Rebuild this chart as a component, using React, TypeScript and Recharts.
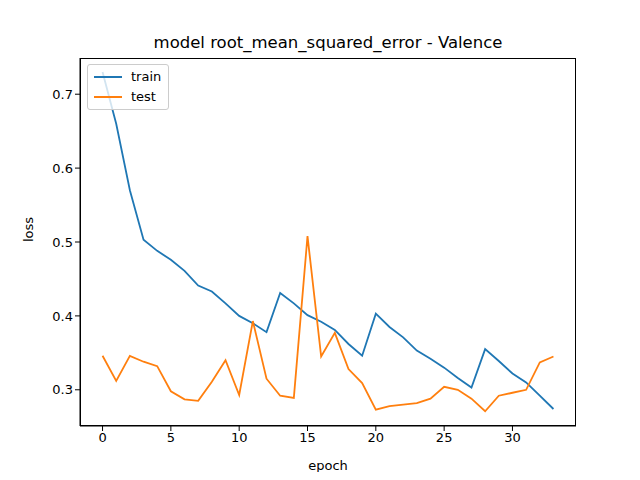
import { LineChart, Line, XAxis, YAxis } from 'recharts';

const epochs = Array.from({ length: 34 }, (_, i) => i);
const train = [
  0.73, 0.66, 0.57, 0.503, 0.488, 0.476, 0.461, 0.441, 0.433, 0.417, 0.4, 0.39, 0.378, 0.431, 0.417, 0.401, 0.392,
  0.381, 0.362, 0.346, 0.403, 0.385, 0.371, 0.353, 0.342, 0.33, 0.316, 0.303, 0.355, 0.339, 0.322, 0.31, 0.292, 0.274,
];
const test = [
  0.346, 0.312, 0.346, 0.338, 0.332, 0.298, 0.287, 0.285, 0.311, 0.34, 0.293, 0.393, 0.315, 0.292, 0.289, 0.508, 0.345,
  0.377, 0.328, 0.309, 0.273, 0.278, 0.28, 0.282, 0.288, 0.304, 0.3, 0.288, 0.271, 0.292, 0.296, 0.3, 0.337, 0.345,
];
const xTicks = [0, 5, 10, 15, 20, 25, 30];
const yTicks = [0.3, 0.4, 0.5, 0.6, 0.7];
const series = [
  { key: 'train', color: '#1f77b4' },
  { key: 'test', color: '#ff7f0e' },
];

const data = epochs.map((e, i) => ({ epoch: e, train: train[i], test: test[i] }));

const font = 'DejaVu Sans, sans-serif';
const tick = { fill: '#000', fontSize: 13, fontFamily: font };

export default function App() {
  return (
    <div style={{ margin: -8, width: 640, height: 480, background: '#fff', position: 'relative', fontFamily: font }}>
      <div style={{ position: 'absolute', top: 33, left: 0, width: 656, textAlign: 'center', fontSize: 16.5 }}>
        model root_mean_squared_error - Valence
      </div>
      <LineChart width={640} height={480} data={data} margin={{ top: 58, right: 64, left: 0, bottom: 0 }}>
        <XAxis
          dataKey="epoch"
          type="number"
          domain={[-1.65, 34.65]}
          ticks={xTicks}
          tick={tick}
          tickSize={5}
          height={54}
          stroke="#000"
          allowDataOverflow
          label={{ value: 'epoch', position: 'insideBottom', offset: 10, fill: '#000', fontSize: 13, fontFamily: font }}
        />
        <YAxis
          type="number"
          domain={[0.251, 0.749]}
          ticks={yTicks}
          tickFormatter={(v: number) => v.toFixed(1)}
          tick={tick}
          tickSize={5}
          width={80}
          stroke="#000"
          allowDataOverflow
          label={{ value: 'loss', angle: -90, position: 'insideLeft', offset: 28, fill: '#000', fontSize: 13, fontFamily: font }}
        />
        {series.map((s) => (
          <Line key={s.key} dataKey={s.key} stroke={s.color} strokeWidth={1.8} dot={false} isAnimationActive={false} />
        ))}
      </LineChart>
      <div
        style={{
          position: 'absolute', left: 80, top: 58, width: 496, height: 368,
          border: '1px solid #000', boxSizing: 'border-box', pointerEvents: 'none',
        }}
      />
      <div
        style={{
          position: 'absolute', left: 87, top: 64, background: 'rgba(255,255,255,0.8)',
          border: '1px solid #ccc', borderRadius: 3, padding: '2px 7px 2px 6px', fontSize: 13, lineHeight: '20px',
        }}
      >
        {series.map((s) => (
          <div key={s.key} style={{ display: 'flex', alignItems: 'center' }}>
            <span style={{ display: 'inline-block', width: 28, height: 2, background: s.color, marginRight: 9 }} />
            {s.key}
          </div>
        ))}
      </div>
    </div>
  );
}
